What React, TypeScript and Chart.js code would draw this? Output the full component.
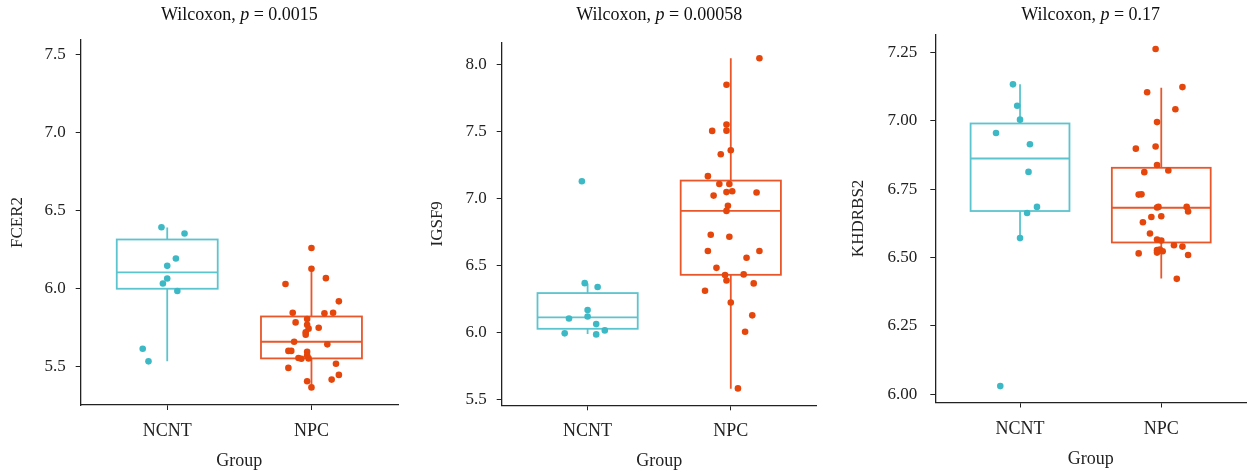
import React, { useEffect, useRef } from 'react';
import { Chart, registerables } from 'chart.js';

Chart.register(...registerables);

// ---------- data ----------
const groups = ['NCNT', 'NPC'];

// Panel 1: FCER2
const fcer2Title = '0.0015';
const fcer2NcntValues = [6.395, 6.354, 6.194, 6.147, 6.066, 6.034, 5.985, 5.615, 5.534];
const fcer2NcntJitter = [-0.04, 0.12, 0.06, 0.0, 0.0, -0.03, 0.07, -0.17, -0.13];
const fcer2NpcValues = [6.261, 6.128, 6.068, 6.03, 5.919, 5.846, 5.842, 5.846, 5.784, 5.806, 5.769, 5.744, 5.75, 5.72, 5.705, 5.66, 5.643, 5.601, 5.601, 5.596, 5.571, 5.556, 5.551, 5.553, 5.519, 5.492, 5.447, 5.417, 5.406, 5.367];
const fcer2NpcJitter = [0.0, 0.0, 0.1, -0.18, 0.19, -0.13, 0.09, 0.15, -0.11, -0.03, -0.03, -0.02, 0.05, -0.04, -0.04, -0.12, 0.11, -0.16, -0.14, -0.03, -0.03, -0.09, -0.07, -0.02, 0.17, -0.16, 0.19, 0.14, -0.03, 0.0];
const fcer2Low = [5.534, 5.374];
const fcer2Q1 = [6.0, 5.553];
const fcer2Median = [6.105, 5.66];
const fcer2Q3 = [6.316, 5.822];
const fcer2High = [6.393, 6.125];
const fcer2Ticks = [5.5, 6.0, 6.5, 7.0, 7.5];

// Panel 2: IGSF9
const igsf9Title = '0.00058';
const igsf9NcntValues = [7.129, 6.37, 6.341, 6.17, 6.107, 6.122, 6.065, 6.018, 5.996, 5.988];
const igsf9NcntJitter = [-0.04, -0.02, 0.07, 0.0, -0.13, 0.0, 0.06, 0.12, -0.16, 0.06];
const igsf9NpcValues = [8.045, 7.848, 7.551, 7.504, 7.506, 7.36, 7.33, 7.167, 7.109, 7.109, 7.048, 7.055, 7.045, 7.022, 6.946, 6.908, 6.73, 6.715, 6.609, 6.609, 6.559, 6.484, 6.43, 6.435, 6.39, 6.368, 6.313, 6.226, 6.13, 6.008, 5.586];
const igsf9NpcJitter = [0.2, -0.03, -0.03, -0.13, -0.03, 0.0, -0.07, -0.16, -0.08, -0.01, -0.03, 0.01, 0.18, -0.12, -0.02, -0.03, -0.14, -0.01, -0.16, 0.2, 0.11, -0.1, -0.04, 0.09, -0.03, 0.16, -0.18, 0.0, 0.15, 0.1, 0.05];
const igsf9Low = [5.991, 5.584];
const igsf9Q1 = [6.03, 6.432];
const igsf9Median = [6.115, 6.908];
const igsf9Q3 = [6.296, 7.134];
const igsf9High = [6.368, 8.045];
const igsf9Ticks = [5.5, 6.0, 6.5, 7.0, 7.5, 8.0];

// Panel 3: KHDRBS2
const khdrbs2Title = '0.17';
const khdrbs2NcntValues = [7.133, 7.055, 7.004, 6.955, 6.914, 6.813, 6.685, 6.663, 6.571, 6.03];
const khdrbs2NcntJitter = [-0.05, -0.02, 0.0, -0.17, 0.07, 0.06, 0.12, 0.05, 0.0, -0.14];
const khdrbs2NpcValues = [7.262, 7.123, 7.104, 7.042, 6.995, 6.898, 6.906, 6.838, 6.818, 6.812, 6.73, 6.731, 6.683, 6.685, 6.685, 6.668, 6.629, 6.648, 6.651, 6.588, 6.566, 6.562, 6.545, 6.54, 6.515, 6.527, 6.529, 6.523, 6.518, 6.509, 6.422];
const khdrbs2NpcJitter = [-0.04, 0.15, -0.1, 0.1, -0.03, -0.18, -0.04, -0.03, 0.05, -0.12, -0.16, -0.14, -0.03, -0.02, 0.18, 0.19, -0.13, -0.07, 0.0, -0.08, -0.03, 0.0, 0.09, 0.15, -0.16, -0.03, -0.01, 0.01, -0.03, 0.19, 0.11];
const khdrbs2Low = [6.571, 6.423];
const khdrbs2Q1 = [6.67, 6.555];
const khdrbs2Median = [6.862, 6.682];
const khdrbs2Q3 = [6.99, 6.828];
const khdrbs2High = [7.133, 7.121];
const khdrbs2Ticks = [6.0, 6.25, 6.5, 6.75, 7.0, 7.25];

// ---------- styles ----------
const FONT = "'Liberation Serif', 'Times New Roman', serif";
const TEXT = '#222222';
const POINT_COLORS = ['#3DB9C6', '#E5460B'];
const BOX_COLORS = ['#5CC4CE', '#E8562A'];
const BOX_WIDTH = 0.7;

type Panel = {
  offset: number;
  width: number;
  label: string;
  pval: string;
  ncntValues: number[];
  ncntJitter: number[];
  npcValues: number[];
  npcJitter: number[];
  low: number[];
  q1: number[];
  median: number[];
  q3: number[];
  high: number[];
  ticks: number[];
  decimals: number;
  yMin: number;
  yMax: number;
  left: number;
  right: number;
  top: number;
  bottom: number;
  yTickPad: number;
  yTitlePad: number;
  xTickPad: number;
  xTitlePad: number;
};

const panels: Panel[] = [
  {
    offset: 0, width: 417, label: 'FCER2', pval: fcer2Title,
    ncntValues: fcer2NcntValues, ncntJitter: fcer2NcntJitter,
    npcValues: fcer2NpcValues, npcJitter: fcer2NpcJitter,
    low: fcer2Low, q1: fcer2Q1, median: fcer2Median, q3: fcer2Q3, high: fcer2High,
    ticks: fcer2Ticks, decimals: 1, yMin: 5.254, yMax: 7.596,
    left: 80.7, right: 398, top: 40, bottom: 405,
    yTickPad: 10, yTitlePad: 7, xTickPad: 10.5, xTitlePad: 0,
  },
  {
    offset: 417, width: 417, label: 'IGSF9', pval: igsf9Title,
    ncntValues: igsf9NcntValues, ncntJitter: igsf9NcntJitter,
    npcValues: igsf9NpcValues, npcJitter: igsf9NpcJitter,
    low: igsf9Low, q1: igsf9Q1, median: igsf9Median, q3: igsf9Q3, high: igsf9High,
    ticks: igsf9Ticks, decimals: 1, yMin: 5.46, yMax: 8.164,
    left: 84.7, right: 399.7, top: 42.3, bottom: 405.3,
    yTickPad: 10, yTitlePad: 10, xTickPad: 10.5, xTitlePad: 0,
  },
  {
    offset: 834, width: 417, label: 'KHDRBS2', pval: khdrbs2Title,
    ncntValues: khdrbs2NcntValues, ncntJitter: khdrbs2NcntJitter,
    npcValues: khdrbs2NpcValues, npcJitter: khdrbs2NpcJitter,
    low: khdrbs2Low, q1: khdrbs2Q1, median: khdrbs2Median, q3: khdrbs2Q3, high: khdrbs2High,
    ticks: khdrbs2Ticks, decimals: 2, yMin: 5.97, yMax: 7.316,
    left: 101.3, right: 412, top: 34.3, bottom: 402.5,
    yTickPad: 13, yTitlePad: 14, xTickPad: 11, xTitlePad: 2,
  },
];

const HEIGHT = 472;

function makeBoxPlugin(p: Panel) {
  return {
    id: 'boxes-' + p.label,
    beforeDatasetsDraw(chart: any) {
      const { ctx, scales } = chart;
      const xs = scales.x;
      const ys = scales.y;
      ctx.save();
      ctx.lineWidth = 1.8;
      for (let i = 0; i < groups.length; i++) {
        const center = i + 1;
        const x0 = xs.getPixelForValue(center - BOX_WIDTH / 2);
        const x1 = xs.getPixelForValue(center + BOX_WIDTH / 2);
        const xc = xs.getPixelForValue(center);
        const yLo = ys.getPixelForValue(p.low[i]);
        const yQ1 = ys.getPixelForValue(p.q1[i]);
        const yMed = ys.getPixelForValue(p.median[i]);
        const yQ3 = ys.getPixelForValue(p.q3[i]);
        const yHi = ys.getPixelForValue(p.high[i]);
        ctx.strokeStyle = BOX_COLORS[i];
        ctx.beginPath();
        ctx.moveTo(xc, yHi);
        ctx.lineTo(xc, yQ3);
        ctx.moveTo(xc, yQ1);
        ctx.lineTo(xc, yLo);
        ctx.stroke();
        ctx.fillStyle = 'rgba(255,255,255,0)';
        ctx.strokeRect(x0, yQ3, x1 - x0, yQ1 - yQ3);
        ctx.beginPath();
        ctx.moveTo(x0, yMed);
        ctx.lineTo(x1, yMed);
        ctx.stroke();
      }
      ctx.restore();
    },
  };
}

function makeTitlePlugin(p: Panel) {
  return {
    id: 'title-' + p.label,
    afterDraw(chart: any) {
      const { ctx, chartArea } = chart;
      const cx = (chartArea.left + chartArea.right) / 2;
      const y = 15;
      const size = 18;
      const parts = [
        { text: 'Wilcoxon, ', font: `${size}px ${FONT}` },
        { text: 'p', font: `italic ${size}px ${FONT}` },
        { text: ' = ' + p.pval, font: `${size}px ${FONT}` },
      ];
      ctx.save();
      let total = 0;
      const widths = parts.map((pt) => {
        ctx.font = pt.font;
        const w = ctx.measureText(pt.text).width;
        total += w;
        return w;
      });
      let x = cx - total / 2;
      ctx.fillStyle = '#111111';
      ctx.textBaseline = 'middle';
      ctx.textAlign = 'left';
      parts.forEach((pt, i) => {
        ctx.font = pt.font;
        ctx.fillText(pt.text, x, y);
        x += widths[i];
      });
      ctx.restore();
    },
  };
}

function makeConfig(p: Panel): any {
  const ncnt = p.ncntValues.map((v, i) => ({ x: 1 + p.ncntJitter[i], y: v }));
  const npc = p.npcValues.map((v, i) => ({ x: 2 + p.npcJitter[i], y: v }));
  const gridOpts = {
    drawOnChartArea: false,
    drawTicks: true,
    tickLength: 5,
    color: TEXT,
    lineWidth: 1,
  };
  const borderOpts = { display: true, color: TEXT, width: 1.3 };
  return {
    type: 'scatter',
    data: {
      datasets: [
        {
          label: groups[0],
          data: ncnt,
          backgroundColor: POINT_COLORS[0],
          borderColor: POINT_COLORS[0],
          pointRadius: 3.3,
          borderWidth: 0,
        },
        {
          label: groups[1],
          data: npc,
          backgroundColor: POINT_COLORS[1],
          borderColor: POINT_COLORS[1],
          pointRadius: 3.3,
          borderWidth: 0,
        },
      ],
    },
    options: {
      responsive: false,
      animation: false,
      events: [],
      layout: {
        padding: { top: p.top, right: p.width - p.right, left: 0, bottom: 0 },
      },
      plugins: {
        legend: { display: false },
        tooltip: { enabled: false },
        title: { display: false },
      },
      scales: {
        x: {
          type: 'linear',
          min: 0.4,
          max: 2.6,
          afterBuildTicks: (s: any) => {
            s.ticks = [{ value: 1 }, { value: 2 }];
          },
          afterFit: (s: any) => {
            s.height = HEIGHT - p.bottom;
          },
          ticks: {
            callback: (v: number) => groups[Math.round(v) - 1],
            font: { family: FONT, size: 18 },
            color: TEXT,
            padding: p.xTickPad,
            maxRotation: 0,
          },
          grid: gridOpts,
          border: borderOpts,
          title: {
            display: true,
            text: 'Group',
            font: { family: FONT, size: 18 },
            color: TEXT,
            padding: { top: 0, bottom: p.xTitlePad },
          },
        },
        y: {
          type: 'linear',
          min: p.yMin,
          max: p.yMax,
          afterBuildTicks: (s: any) => {
            s.ticks = p.ticks.map((v) => ({ value: v }));
          },
          afterFit: (s: any) => {
            s.width = p.left;
          },
          ticks: {
            callback: (v: number) => Number(v).toFixed(p.decimals),
            font: { family: FONT, size: 17 },
            color: TEXT,
            padding: p.yTickPad,
          },
          grid: gridOpts,
          border: borderOpts,
          title: {
            display: true,
            text: p.label,
            font: { family: FONT, size: 17 },
            color: TEXT,
            padding: { top: p.yTitlePad, bottom: 0 },
          },
        },
      },
    },
    plugins: [makeBoxPlugin(p), makeTitlePlugin(p)],
  };
}

function PanelChart({ p }: { p: Panel }) {
  const ref = useRef<HTMLCanvasElement | null>(null);
  useEffect(() => {
    if (!ref.current) return;
    const chart = new Chart(ref.current, makeConfig(p));
    return () => chart.destroy();
  }, [p]);
  return (
    <canvas
      ref={ref}
      width={p.width}
      height={HEIGHT}
      style={{ position: 'absolute', left: p.offset, top: 0, width: p.width, height: HEIGHT }}
    />
  );
}

export default function App() {
  return (
    <div
      style={{
        position: 'absolute',
        left: 0,
        top: 0,
        width: 1251,
        height: HEIGHT,
        background: '#ffffff',
        overflow: 'hidden',
      }}
    >
      {panels.map((p) => (
        <PanelChart key={p.label} p={p} />
      ))}
    </div>
  );
}
